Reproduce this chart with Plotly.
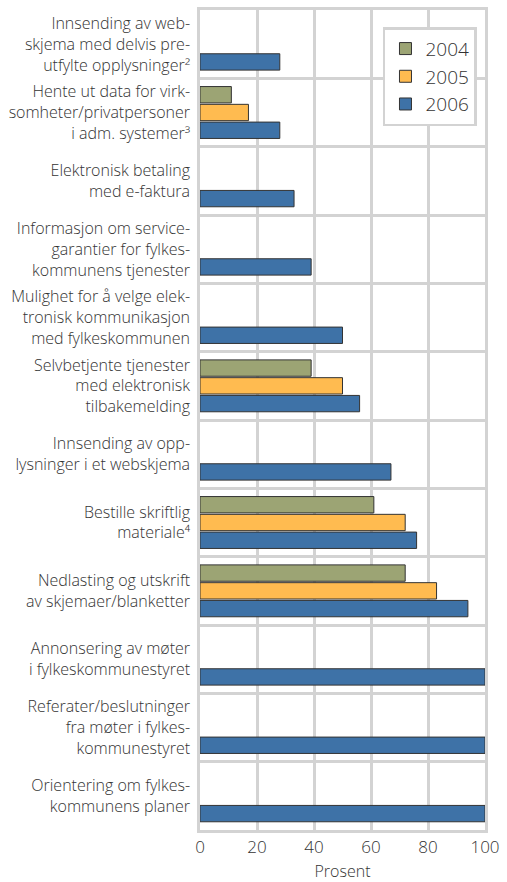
import plotly.graph_objects as go

categories = [
    "Innsending av web-<br>skjema med delvis pre-<br>utfylte opplysninger²",
    "Hente ut data for virk-<br>somheter/privatpersoner<br>i adm. systemer³",
    "Elektronisk betaling<br>med e-faktura",
    "Informasjon om service-<br>garantier for fylkes-<br>kommunens tjenester",
    "Mulighet for å velge elek-<br>tronisk kommunikasjon<br>med fylkeskommunen",
    "Selvbetjente tjenester<br>med elektronisk<br>tilbakemelding",
    "Innsending av opp-<br>lysninger i et webskjema",
    "Bestille skriftlig<br>materiale⁴",
    "Nedlasting og utskrift<br>av skjemaer/blanketter",
    "Annonsering av møter<br>i fylkeskommunestyret",
    "Referater/beslutninger<br>fra møter i fylkes-<br>kommunestyret",
    "Orientering om fylkes-<br>kommunens planer",
]

v2004 = [None, 11, None, None, None, 39, None, 61, 72, None, None, None]
v2005 = [None, 17, None, None, None, 50, None, 72, 83, None, None, None]
v2006 = [28, 28, 33, 39, 50, 56, 67, 76, 94, 100, 100, 100]

series = [
    ("2004", v2004, "#9ca474"),
    ("2005", v2005, "#ffbb50"),
    ("2006", v2006, "#3e72a7"),
]

fig = go.Figure()
for name, vals, color in series:
    fig.add_trace(go.Bar(
        name=name,
        y=categories,
        x=vals,
        orientation="h",
        marker=dict(color=color, line=dict(color="#333333", width=1)),
    ))

grid = "#d3d3d3"
fig.update_layout(
    width=507,
    height=882,
    barmode="group",
    bargap=0.22,
    bargroupgap=0.08,
    plot_bgcolor="white",
    paper_bgcolor="white",
    font=dict(family="Open Sans", size=16, color="#333333", weight=300),
    margin=dict(l=200, r=22, t=10, b=52),
    legend=dict(
        x=0.642, y=0.979, xanchor="left", yanchor="top",
        bgcolor="white", bordercolor=grid, borderwidth=2.5,
        traceorder="normal", font=dict(size=19),
    ),
    xaxis=dict(
        range=[0, 100], dtick=20,
        showgrid=True, gridcolor=grid, gridwidth=2.5,
        showline=True, linecolor=grid, linewidth=2.5, mirror=True,
        zeroline=False, ticks="", automargin=False,
        tickfont=dict(size=17),
        title=dict(text="Prosent", font=dict(size=16)),
    ),
    yaxis=dict(
        autorange="reversed", tickson="boundaries",
        showgrid=True, gridcolor=grid, gridwidth=2.5,
        showline=True, linecolor=grid, linewidth=2.5, mirror=True,
        ticks="", ticklabelstandoff=4, automargin=False,
    ),
)

fig.write_html(
    "out.html",
    config={"displayModeBar": False},
    post_script="document.body.style.margin='0';",
)
